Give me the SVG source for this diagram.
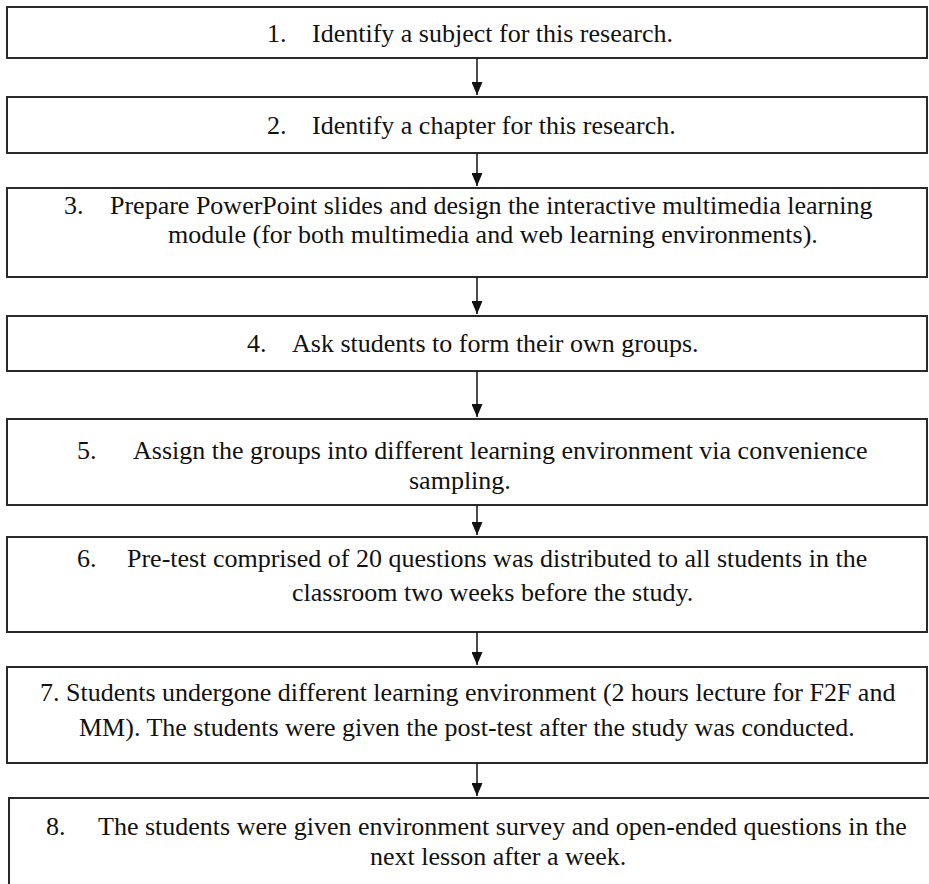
<svg xmlns="http://www.w3.org/2000/svg" width="929" height="884" viewBox="0 0 929 884">
<style>
.box{fill:#fff;stroke:#2a2a2a;stroke-width:2}
.t{font-family:"Liberation Serif","Times New Roman",serif;font-size:26px;fill:#111}
.c{stroke:#111;stroke-width:1.5;fill:none}
</style>
<defs>
<marker id="ah" viewBox="0 0 13 11" refX="13" refY="5.5" markerWidth="13" markerHeight="11" markerUnits="userSpaceOnUse" orient="auto">
<path d="M0,0 L13,5.5 L0,11 Z" fill="#111"/>
</marker>
</defs>
<rect width="929" height="884" fill="#fff"/>
<g id="n1"><rect class="box" x="7" y="7" width="920" height="51"/><text class="t" y="42"><tspan x="267">1.</tspan><tspan x="312">Identify a subject for this research.</tspan></text></g>
<g id="n2"><rect class="box" x="7" y="97" width="920" height="56"/><text class="t" y="134"><tspan x="267">2.</tspan><tspan x="312">Identify a chapter for this research.</tspan></text></g>
<g id="n3"><rect class="box" x="7" y="188" width="920" height="89"/><text class="t" y="214"><tspan x="64">3.</tspan><tspan x="110">Prepare PowerPoint slides and design the interactive multimedia learning</tspan></text><text class="t" x="168" y="243">module (for both multimedia and web learning environments).</text></g>
<g id="n4"><rect class="box" x="7" y="316" width="920" height="55"/><text class="t" y="352"><tspan x="247">4.</tspan><tspan x="292">Ask students to form their own groups.</tspan></text></g>
<g id="n5"><rect class="box" x="7" y="419" width="920" height="86"/><text class="t" y="459"><tspan x="77">5.</tspan><tspan x="133">Assign the groups into different learning environment via convenience</tspan></text><text class="t" x="409" y="489">sampling.</text></g>
<g id="n6"><rect class="box" x="7" y="537" width="920" height="95"/><text class="t" y="567"><tspan x="77">6.</tspan><tspan x="127">Pre-test comprised of 20 questions was distributed to all students in the</tspan></text><text class="t" x="292" y="601">classroom two weeks before the study.</text></g>
<g id="n7"><rect class="box" x="7" y="667" width="920" height="96"/><text class="t" x="40" y="701">7. Students undergone different learning environment (2 hours lecture for F2F and</text><text class="t" x="79" y="736">MM). The students were given the post-test after the study was conducted.</text></g>
<g id="n8"><rect class="box" x="9" y="798" width="925" height="100"/><text class="t" y="835"><tspan x="46">8.</tspan><tspan x="98">The students were given environment survey and open-ended questions in the</tspan></text><text class="t" x="370" y="865">next lesson after a week.</text></g>
<g id="connectors">
<line class="c" x1="477" y1="58" x2="477" y2="95" marker-end="url(#ah)"/>
<line class="c" x1="477" y1="153" x2="477" y2="186" marker-end="url(#ah)"/>
<line class="c" x1="477" y1="277" x2="477" y2="314" marker-end="url(#ah)"/>
<line class="c" x1="477" y1="371" x2="477" y2="417" marker-end="url(#ah)"/>
<line class="c" x1="477" y1="505" x2="477" y2="535" marker-end="url(#ah)"/>
<line class="c" x1="477" y1="632" x2="477" y2="665" marker-end="url(#ah)"/>
<line class="c" x1="477" y1="763" x2="477" y2="796" marker-end="url(#ah)"/>
</g>
</svg>
